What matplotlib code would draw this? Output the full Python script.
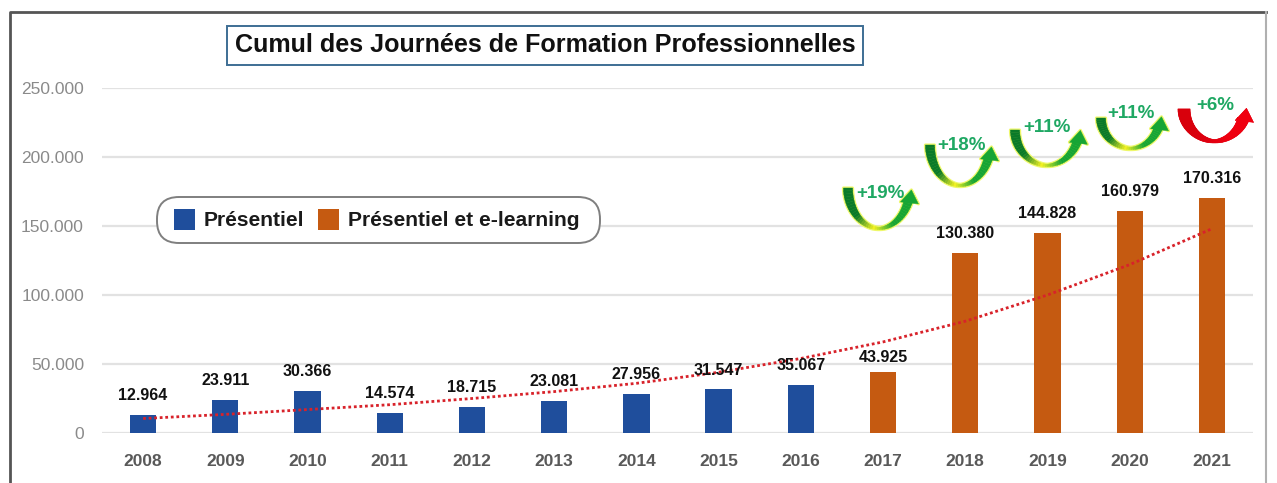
import numpy as np
import matplotlib
matplotlib.use("Agg")
import matplotlib.pyplot as plt
from matplotlib.patches import FancyBboxPatch, Polygon
from matplotlib.lines import Line2D

plt.rcParams['font.family'] = ['Liberation Sans', 'DejaVu Sans']

years_presentiel = ['2008', '2009', '2010', '2011', '2012', '2013', '2014', '2015', '2016']
values_presentiel = [12964, 23911, 30366, 14574, 18715, 23081, 27956, 31547, 35067]
years_elearning = ['2017', '2018', '2019', '2020', '2021']
values_elearning = [43925, 130380, 144828, 160979, 170316]
labels_presentiel = ['12.964', '23.911', '30.366', '14.574', '18.715', '23.081', '27.956', '31.547', '35.067']
labels_elearning = ['43.925', '130.380', '144.828', '160.979', '170.316']
trend_values = [10500, 13500, 17000, 20500, 25000, 30000, 36000, 44000, 54000, 66000, 81000, 100000, 122000, 148000]
y_ticks = [0, 50000, 100000, 150000, 200000, 250000]
y_tick_labels = ['0', '50.000', '100.000', '150.000', '200.000', '250.000']
growth_labels = ['+19%', '+18%', '+11%', '+11%', '+6%']

W, H = 1277, 483
fig = plt.figure(figsize=(W / 100, H / 100), dpi=100, facecolor='white')
ax = fig.add_axes([102 / W, 1 - 433 / H, 1151 / W, 345 / H])
all_years = years_presentiel + years_elearning
pos = np.arange(len(all_years))
n1 = len(years_presentiel)
BLUE, ORANGE = '#1F4E9C', '#C55A11'
b1 = ax.bar(pos[:n1], values_presentiel, width=0.32, color=BLUE, zorder=3)
b2 = ax.bar(pos[n1:], values_elearning, width=0.32, color=ORANGE, zorder=3)
ax.plot(pos, trend_values, ls=(0, (1, 1)), color='#D8222A', lw=2, zorder=4)

for x, v, s in zip(pos, values_presentiel + values_elearning, labels_presentiel + labels_elearning):
    off = 11 if s == '43.925' else 14
    ax.annotate(s, (x, v), xytext=(0, off), textcoords='offset points', ha='center', va='center',
                fontsize=11.5, fontweight='bold', color='#111111', zorder=5)

ax.set_xlim(-0.5, 13.5)
ax.set_ylim(0, 250000)
ax.set_xticks(pos, all_years, fontsize=12.5, fontweight='bold', color='#595959')
ax.set_yticks(y_ticks, y_tick_labels, fontsize=12.5, color='#8a8a8a')
ax.tick_params(length=0, axis='x', pad=15)
ax.tick_params(length=0, axis='y', pad=13)
ax.grid(axis='y', color='#e2e2e2', lw=1.6, zorder=0)
ax.set_axisbelow(True)
for s in ax.spines.values():
    s.set_visible(False)
ax.set_title('Cumul des Journées de Formation Professionnelles', x=0.385, y=1.1, va='center',
             fontsize=18.05, fontweight='bold', color='#111111',
             bbox=dict(boxstyle='square,pad=0.3', fc='white', ec='#3E6E94', lw=1.4))

# overlay in pixel coordinates for frame, legend capsule and growth arrows
ov = fig.add_axes([0, 0, 1, 1], zorder=5)
ov.set_xlim(0, W)
ov.set_ylim(H, 0)
ov.axis('off')
ov.patch.set_alpha(0)

ov.add_line(Line2D([9.5, 9.5, 1266], [483, 11.5, 11.5], color='#555555', lw=2))
ov.add_line(Line2D([1266, 1266], [11.5, 483], color='#b0b0b0', lw=1.5))
ov.add_patch(FancyBboxPatch((157, 197), 443, 46, boxstyle='round,pad=0,rounding_size=22',
                            fc='white', ec='#7f7f7f', lw=1.4))
ov.legend([b1, b2], ['Présentiel', 'Présentiel et e-learning'], loc='center',
          bbox_to_anchor=(376.5 / W, 1 - 219.5 / H), bbox_transform=fig.transFigure, ncol=2, frameon=False,
          prop=dict(size=15.1, weight='bold'), handlelength=1.0, handleheight=1.2,
          handletextpad=0.4, columnspacing=0.7, labelcolor='#1a1a1a', borderpad=0, borderaxespad=0)


def uarrow(xl, xr, ytop, ybot, dark, mid, light, glow, halfw, glow_lw):
    """U-shaped arrow: left end at (xl, ytop), lowest point at ybot, head at the right."""
    cx, rx, ry = (xl + xr) / 2, (xr - xl) / 2, ybot - ytop
    t = np.linspace(np.pi, 0.32, 40)
    wid = halfw * (0.35 + 0.65 * np.abs(np.cos(t)) ** 1.1)
    ox, oy = cx + (rx + wid) * np.cos(t), ytop + (ry + wid * 0.4) * np.sin(t)
    ix, iy = cx + (rx - wid) * np.cos(t), ytop + (ry - wid * 1.1) * np.sin(t)
    ex, ey = cx + rx * np.cos(t[-1]), ytop + ry * np.sin(t[-1])
    head = np.array([[ex - 8, ey + 1], [ex + 3, ey - 11], [ex + 10, ey + 3]])
    out = np.r_[np.c_[ox, oy], head[::-1], np.c_[ix, iy][::-1]]
    ov.add_patch(Polygon(out, closed=True, fc=glow, ec=glow, lw=glow_lw, joinstyle='round'))
    n = len(t)
    for i in range(n - 1):
        f = abs(2 * i / (n - 2) - 1)
        base = np.array(matplotlib.colors.to_rgb(dark if i < n / 2 else light))
        k = min(1, f * 2.2)
        col = base * k + np.array(matplotlib.colors.to_rgb(mid)) * (1 - k)
        ov.add_patch(Polygon([[ox[i], oy[i]], [ox[i + 1], oy[i + 1]], [ix[i + 1], iy[i + 1]], [ix[i], iy[i]]],
                             closed=True, fc=col, ec=col, lw=0.3))
    ov.add_patch(Polygon(head, closed=True, fc=light, ec=light, lw=0.3))


arrows = [(848, 910, 188, 229, 880, 193),
          (930, 990, 145, 186, 961, 145),
          (1015, 1079, 130, 166, 1047, 127),
          (1101, 1160, 118, 149, 1131, 113),
          (1184, 1245, 109, 142, 1215, 105)]
for (xl, xr, yt, yb, tx, ty), lab in zip(arrows, growth_labels):
    if lab == '+6%':
        uarrow(xl, xr, yt, yb, '#D8000C', '#E00010', '#F00010', '#E00010', 6, 0.5)
    else:
        uarrow(xl, xr, yt, yb, '#0A7A28', '#F2F020', '#16A534', '#EEF86A', 4.6, 2.2)
    ov.text(tx, ty, lab, ha='center', va='center', fontsize=13.5, fontweight='bold', color='#1FA863', zorder=6)

fig.savefig('out.png', dpi=100, facecolor='white')
